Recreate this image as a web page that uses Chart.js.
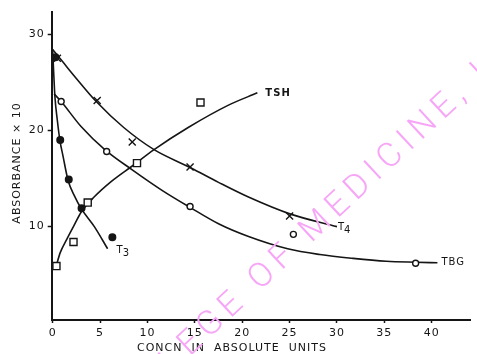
<!DOCTYPE html>
<html><head><meta charset="utf-8">
<script src="https://cdn.jsdelivr.net/npm/chart.js@4.4.0/dist/chart.umd.min.js"></script>
<style>html,body{margin:0;padding:0;background:#fff;}#wrap{width:477px;height:354px;}</style>
</head><body><div id="wrap"><canvas id="c" width="477" height="354"></canvas></div>
<script>
// ---- data ----
const xTicks = [0, 5, 10, 15, 20, 25, 30, 35, 40];
const yTicks = [10, 20, 30];
const xTitle = 'CONCN  IN  ABSOLUTE  UNITS';
const yTitle = 'ABSORBANCE × 10';

// fitted curves
const t4CurveX  = [0, 1, 2.5, 4.6, 7.5, 10.7, 14.6, 17.5, 20.6, 25.1, 30.0];
const t4CurveY  = [28.4, 27.2, 25.4, 23.0, 20.3, 18.0, 16.1, 14.6, 13.1, 11.3, 10.0];
const tbgCurveX = [0.15, 0.9, 3, 5.5, 8.4, 11.5, 14.5, 17.5, 20.6, 24.8, 28.2, 31.7, 35.2, 38.3, 40.6];
const tbgCurveY = [23.8, 23.0, 20.4, 18.0, 15.9, 13.8, 12.0, 10.3, 9.0, 7.7, 7.1, 6.7, 6.4, 6.3, 6.25];
const t3CurveX  = [0, 0.1, 0.24, 0.5, 0.76, 1.1, 1.63, 2.3, 3.0, 4.4, 5.8];
const t3CurveY  = [28.4, 26.2, 23.5, 21.0, 19.0, 17.3, 14.8, 13.2, 11.9, 10.0, 7.7];
const tshCurveX = [0.4, 0.8, 1.5, 2.3, 3.0, 4.4, 6.2, 8.4, 10.7, 14.3, 18.5, 21.6];
const tshCurveY = [6.0, 7.3, 8.7, 10.2, 11.5, 13.1, 14.7, 16.3, 18.0, 20.3, 22.6, 23.9];

// measured points
const t4PtsX  = [0.5, 4.7, 8.4, 14.5, 25.0];
const t4PtsY  = [27.5, 23.1, 18.8, 16.2, 11.1];
const tbgPtsX = [0.9, 5.7, 14.5, 25.4, 38.3];
const tbgPtsY = [23.0, 17.8, 12.1, 9.2, 6.2];
const t3PtsX  = [0.3, 0.8, 1.7, 3.05, 6.3];
const t3PtsY  = [27.6, 19.0, 14.9, 11.9, 8.9];
const tshPtsX = [0.4, 2.2, 3.7, 8.9, 15.6];
const tshPtsY = [5.9, 8.4, 12.5, 16.6, 22.9];

const seriesNames = ['T4', 'TBG', 'T3', 'TSH'];
const watermark = 'COLLEGE OF MEDICINE, I';

// ---- build ----
const pts = (xs, ys) => xs.map((x, i) => ({x: x, y: ys[i]}));
const INK = '#151515';

function curve(name, xs, ys) {
  return {label: name, data: pts(xs, ys), showLine: true, pointRadius: 0,
    borderColor: INK, borderWidth: 1.6, cubicInterpolationMode: 'monotone', fill: false, order: 2};
}
function marks(name, xs, ys, style, r, fillCol) {
  return {label: name + ' pts', data: pts(xs, ys), showLine: false, pointStyle: style,
    pointRadius: r, pointBorderColor: INK, pointBackgroundColor: fillCol, pointBorderWidth: 1.4, order: 1};
}

const labelOffsets = {T4: [1, 1], TBG: [4, 0], T3: [9, 2], TSH: [8, 1]};

const annot = {
  id: 'annot',
  beforeDraw(chart) {
    chart.ctx.letterSpacing = '1px';
  },
  afterDatasetsDraw(chart) {
    const ctx = chart.ctx;
    ctx.save();
    ctx.fillStyle = INK;
    ctx.letterSpacing = '1px';
    ctx.font = '11px "DejaVu Sans"';
    ctx.textBaseline = 'middle';
    ctx.textAlign = 'left';
    ctx.fillText(xTitle, 137, 348);
    ctx.save();
    ctx.translate(17, 163);
    ctx.rotate(-Math.PI / 2);
    ctx.textAlign = 'center';
    ctx.fillText(yTitle, 0, 0);
    ctx.restore();
    // curve end labels
    seriesNames.forEach((n, i) => {
      const ds = chart.data.datasets[i];
      const last = ds.data[ds.data.length - 1];
      const px = chart.scales.x.getPixelForValue(last.x) + labelOffsets[n][0];
      const py = chart.scales.y.getPixelForValue(last.y) + labelOffsets[n][1];
      ctx.font = (n === 'TSH' ? 'bold ' : '') + '10px "DejaVu Sans"';
      if (n === 'T4' || n === 'T3') {
        ctx.fillText('T', px, py);
        const w = ctx.measureText('T').width;
        ctx.fillText(n.slice(1), px + w - 1, py + 3);
      } else {
        ctx.fillText(n, px, py);
      }
    });
    ctx.restore();
  },
  afterDraw(chart) {
    const ctx = chart.ctx;
    ctx.save();
    ctx.letterSpacing = '6.5px';
    ctx.font = '300 34px Roboto, "Liberation Sans"';
    ctx.fillStyle = '#f7a6f7';
    ctx.translate(260, 291);
    ctx.rotate(-43 * Math.PI / 180);
    const w = ctx.measureText('COLLEGE ').width;
    ctx.textAlign = 'left';
    ctx.textBaseline = 'alphabetic';
    ctx.fillText(watermark, -w, 0);
    ctx.restore();
  }
};

new Chart(document.getElementById('c'), {
  type: 'line',
  data: {
    datasets: [
      curve('T4', t4CurveX, t4CurveY),
      curve('TBG', tbgCurveX, tbgCurveY),
      curve('T3', t3CurveX, t3CurveY),
      curve('TSH', tshCurveX, tshCurveY),
      marks('T4', t4PtsX, t4PtsY, 'crossRot', 5, INK),
      marks('TBG', tbgPtsX, tbgPtsY, 'circle', 3, '#fff'),
      marks('T3', t3PtsX, t3PtsY, 'circle', 3.3, INK),
      marks('TSH', tshPtsX, tshPtsY, 'rect', 5, '#fff')
    ]
  },
  options: {
    responsive: false,
    devicePixelRatio: 1,
    animation: false,
    layout: {padding: {top: 12, right: 2, left: 0, bottom: 0}},
    plugins: {legend: {display: false}, tooltip: {enabled: false}},
    scales: {
      x: {
        type: 'linear', min: -0.1, max: 44.1,
        afterBuildTicks: s => { s.ticks = xTicks.map(v => ({value: v})); },
        afterFit: s => { s.height = 34; },
        grid: {drawOnChartArea: false, drawTicks: true, tickLength: 3, tickColor: INK, tickWidth: 1.5},
        border: {display: true, color: INK, width: 2},
        ticks: {color: INK, font: {family: '"DejaVu Sans"', size: 11}, padding: 4, maxRotation: 0, autoSkip: false}
      },
      y: {
        type: 'linear', min: 0.3, max: 32.3,
        afterBuildTicks: s => { s.ticks = yTicks.map(v => ({value: v})); },
        afterFit: s => { s.width = 51.7; },
        grid: {drawOnChartArea: false, drawTicks: true, tickLength: 4, tickColor: INK, tickWidth: 1.5},
        border: {display: true, color: INK, width: 2},
        ticks: {color: INK, font: {family: '"DejaVu Sans"', size: 11}, padding: 3}
      }
    }
  },
  plugins: [annot]
});
</script></body></html>
